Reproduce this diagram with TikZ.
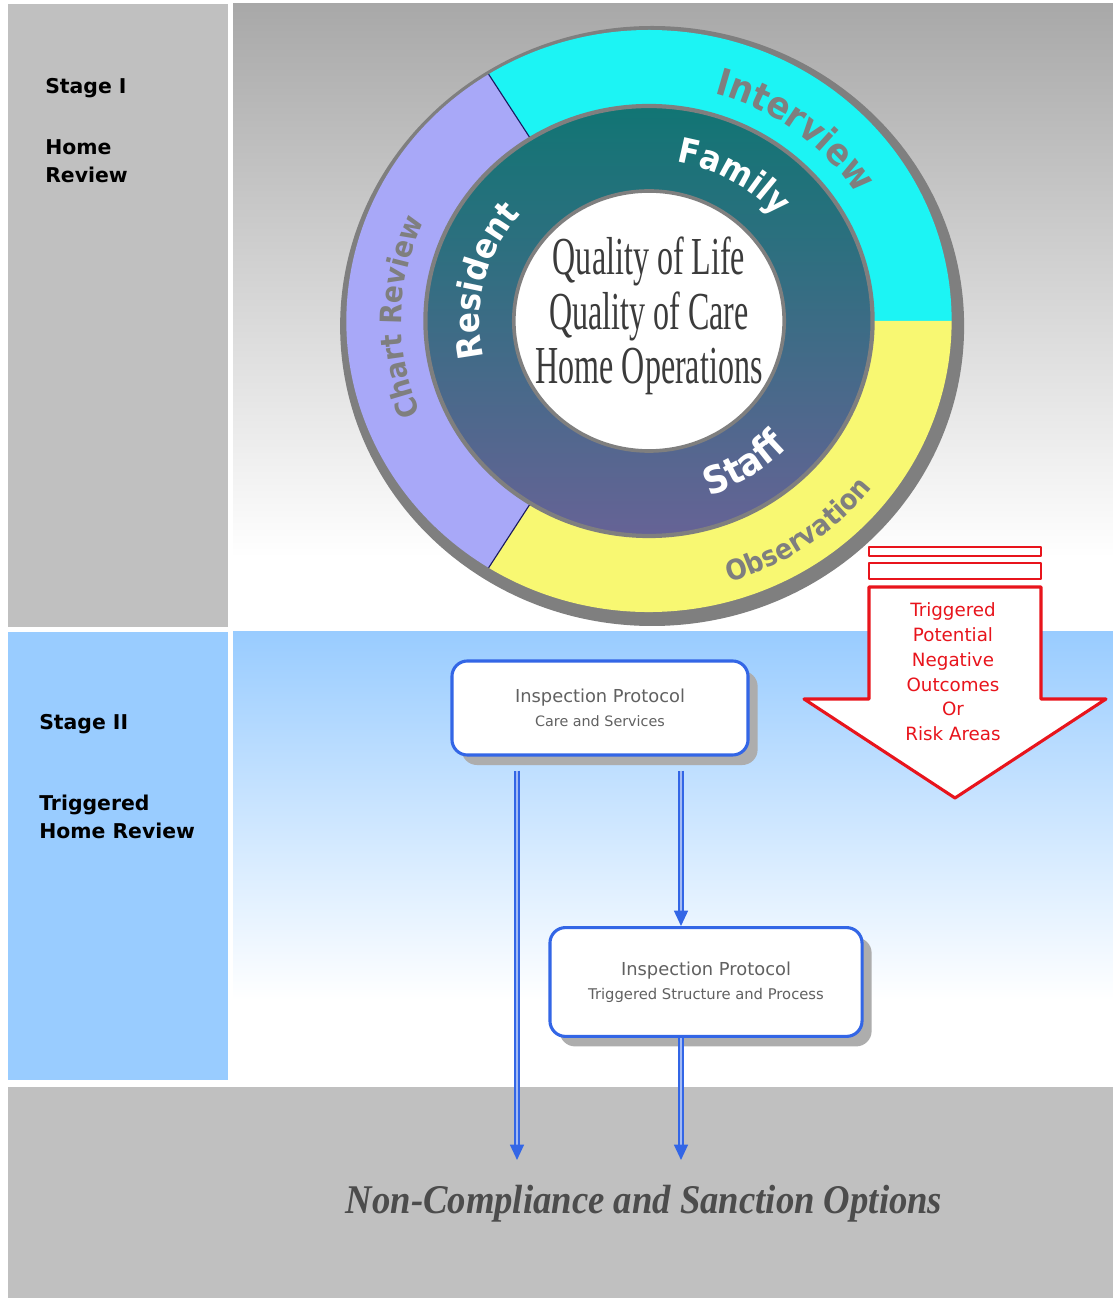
\documentclass[tikz,border=0pt]{standalone}
\usepackage{fontspec}
\setmainfont{DejaVu Sans}
\newfontfamily\timesface{Liberation Serif}
\newfontfamily\wheelface{DejaVu Sans Condensed}
\usetikzlibrary{arrows.meta,calc,decorations.text,shadows}
\usetikzlibrary{positioning}
\definecolor{panelgray}{HTML}{C0C0C0}
\definecolor{panelblue}{HTML}{99CCFF}
\definecolor{ringgray}{HTML}{7F7F7F}
\definecolor{ringcyan}{HTML}{1CF4F4}
\definecolor{ringlilac}{HTML}{A8A8F8}
\definecolor{ringyellow}{HTML}{F8F872}
\definecolor{ringteal}{HTML}{117574}
\definecolor{ringslate}{HTML}{666396}
\definecolor{divnavy}{HTML}{1A1A60}
\definecolor{boxblue}{HTML}{3366E6}
\definecolor{alertred}{HTML}{E8141C}
\tikzset{stagelbl/.style={anchor=west,inner sep=0pt,align=left,font=\bfseries\fontsize{14.5}{20}\selectfont},
  protobox/.style={draw=boxblue,line width=2.2pt,fill=white,rounded corners=11pt,align=center,
    text=black!62,font=\fontsize{12.7}{17}\selectfont,
    drop shadow={shadow xshift=0.24cm,shadow yshift=-0.25cm,fill=black!32,opacity=1}},
  flow/.style={draw=boxblue,line width=1.1pt,double=white!55!boxblue,double distance=1.4pt,
    -{Triangle[width=10pt,length=11pt]}},
  curvelbl/.style={decorate,decoration={text along path,text align=center,text={#1}}}}

\begin{document}
\begin{tikzpicture}[x=0.025cm,y=0.025cm,>=Stealth,line join=round]
\useasboundingbox (0,0) rectangle (1113,1298);
\fill[white] (0,0) rectangle (1113,1298);
% --- stage I: home review
\fill[panelgray] (8,671) rectangle (228,1294);
\shade[top color=black!34,bottom color=white] (233,740) rectangle (1113,1294);
\node[stagelbl] (st1) at (45,1210) {Stage I};
\node[stagelbl] (st1txt) at (45,1137) {Home\\Review};
% --- stage II: triggered review
\fill[panelblue] (8,218) rectangle (228,666);
\shade[top color=panelblue,bottom color=white] (233,298) rectangle (1113,666);
\node[stagelbl] (st2) at (39,574) {Stage II};
\node[stagelbl] (st2txt) at (39,481) {Triggered\\Home Review};
% --- sanctions band
\fill[panelgray] (8,0) rectangle (1113,211);
\node[font=\timesface\bfseries\itshape\fontsize{29}{29}\selectfont,text=black!70,xscale=0.9] (sanction) at (644,94) {Non-Compliance and Sanction Options};

% --- review wheel
\begin{scope}[shift={(649,977)},xscale=1.04]
\fill[ringgray] (3,-5) circle[radius=300];
\fill[ringcyan] (0,0) -- (0:291) arc[start angle=0,end angle=122,radius=291] -- cycle;
\fill[ringlilac] (0,0) -- (122:291) arc[start angle=122,end angle=238,radius=291] -- cycle;
\fill[ringyellow] (0,0) -- (238:291) arc[start angle=238,end angle=360,radius=291] -- cycle;
\draw[divnavy,line width=0.8pt] (122:212) -- (122:291) (238:212) -- (238:291);
\shade[top color=ringteal,bottom color=ringslate,even odd rule] (0,0) circle[radius=215] (0,0) circle[radius=130];
\draw[ringgray,line width=3pt] (0,0) circle[radius=215];
\fill[white] (0,0) circle[radius=130];
\draw[ringgray,line width=2.6pt] (0,0) circle[radius=130];
% ring labels, outer then inner
\path[curvelbl={|\color{ringgray}\wheelface\bfseries\fontsize{26.5}{26}\selectfont|Interview}] (103:236) arc[start angle=103,end angle=3,radius=236];
\path[curvelbl={|\color{ringgray}\wheelface\bfseries\fontsize{21}{21}\selectfont|Chart Review}] (229:238) arc[start angle=229,end angle=129,radius=238];
\path[curvelbl={|\color{ringgray}\wheelface\bfseries\fontsize{20}{20}\selectfont|Observation}] (-115:272) arc[start angle=-115,end angle=5,radius=272];
\path[curvelbl={|\color{white}\wheelface\bfseries\fontsize{24.5}{24}\selectfont|Family}] (110:161) arc[start angle=110,end angle=10,radius=161];
\path[curvelbl={|\color{white}\wheelface\bfseries\fontsize{24.5}{24}\selectfont|Resident}] (216:163) arc[start angle=216,end angle=116,radius=163];
\path[curvelbl={|\color{white}\wheelface\bfseries\fontsize{27}{27}\selectfont|Staff}] (-107:184) arc[start angle=-107,end angle=-7,radius=184];
\node[font=\timesface\fontsize{38}{39}\selectfont,text=black!77,align=center,xscale=0.6] (focus) at (0,5) {Quality of Life\\Quality of Care\\Home Operations};
\end{scope}

% --- trigger arrow
\draw[alertred,line width=2pt,fill=white] (869,742) rectangle (1041,751);
\draw[alertred,line width=2pt,fill=white] (869,719) rectangle (1041,735);
\draw[alertred,line width=2.2pt,fill=white] (869,711) -- (869,599) -- (804,599) -- (955,500) -- (1106,599) -- (1041,599) -- (1041,711) -- cycle;
\node[text=alertred,align=center,font=\fontsize{13}{17.6}\selectfont] (risk) at (953,626) {Triggered\\Potential\\Negative\\Outcomes\\Or\\Risk Areas};

% --- inspection protocols
\node[protobox,minimum width=7.4cm,minimum height=2.35cm] (ip1) at (600,590) {Inspection Protocol\\{\fontsize{10.2}{13}\selectfont Care and Services}};
\node[protobox,minimum width=7.8cm,minimum height=2.72cm] (ip2) at (706,316) {Inspection Protocol\\{\fontsize{10.5}{13}\selectfont Triggered Structure and Process}};
\coordinate (sink1) at (517,138);
\coordinate (sink2) at (681,138);
\draw[flow,shorten <=10pt] (ip1.south -| sink1) -- (sink1);
\draw[flow,shorten <=10pt] (ip1.south -| sink2) -- (ip2.north -| sink2);
\draw[flow] (ip2.south -| sink2) -- (sink2);
\end{tikzpicture}
\end{document}
